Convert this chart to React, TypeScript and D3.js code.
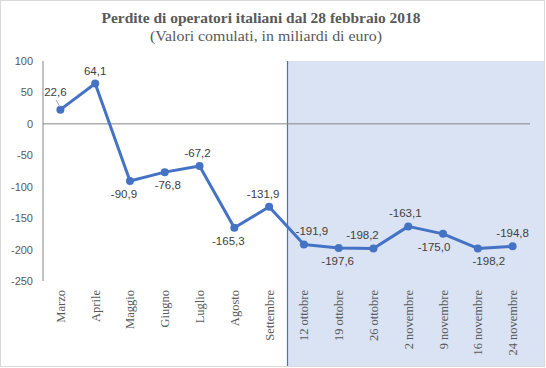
import React from "react";
import * as d3 from "d3";

const categories = [
  "Marzo", "Aprile", "Maggio", "Giugno", "Luglio", "Agosto", "Settembre",
  "12 ottobre", "19 ottobre", "26 ottobre", "2 novembre", "9 novembre", "16 novembre", "24 novembre",
];
const values = [22.6, 64.1, -90.9, -76.8, -67.2, -165.3, -131.9, -191.9, -197.6, -198.2, -163.1, -175.0, -198.2, -194.8];
const yTicks = [100, 50, 0, -50, -100, -150, -200, -250];
const labelSide = ["above", "above", "below", "below", "above", "below", "above", "above", "below", "above", "above", "below", "below", "above"];
const labelShift = [-5, 0, -6, 3, -2, -6, -6, 8, -1, -11, -3, -9, 11, 0];
const shadeFrom = "12 ottobre";

const W = 546, H = 368;
const fmt = (v: number) => v.toFixed(1).replace(".", ",");

export default function App() {
  const x = d3.scaleBand<string>().domain(categories).range([43, 530]).padding(0);
  const y = d3.scaleLinear().domain([-250, 100]).range([281, 61]);
  const cx = (c: string) => (x(c) as number) + x.bandwidth() / 2;
  const line = d3.line<number>().x((_, i) => cx(categories[i])).y((v) => y(v));
  const shadeX = (x(shadeFrom) as number) + 1;
  const serif = "'Liberation Serif', 'DejaVu Serif', serif";
  const sans = "'Liberation Sans', Arial, sans-serif";

  return (
    <svg width={W} height={H} style={{ position: "absolute", left: 0, top: 0 }}>
      <rect x={0.5} y={0.5} width={W - 2} height={H - 2} fill="#fff" stroke="#d9d9d9" />
      <rect x={shadeX} y={y(100)} width={W - 2 - shadeX} height={H - 2 - y(100)} fill="#dae3f3" />
      <line x1={shadeX} x2={shadeX} y1={y(100)} y2={H - 2} stroke="#4472c4" strokeWidth={1.2} />
      <text x={261} y={23} textAnchor="middle" fontFamily={serif} fontWeight="bold" fontSize={15.5}
        textLength={319} lengthAdjust="spacingAndGlyphs" fill="#595959">
        Perdite di operatori italiani dal 28 febbraio 2018
      </text>
      <text x={266} y={41} textAnchor="middle" fontFamily={serif} fontSize={14.5}
        textLength={232} lengthAdjust="spacingAndGlyphs" fill="#595959">
        (Valori comulati, in miliardi di euro)
      </text>
      <line x1={43} x2={43} y1={y(100)} y2={y(-250)} stroke="#868686" />
      <line x1={43} x2={530} y1={y(0)} y2={y(0)} stroke="#868686" />
      {yTicks.map((t) => (
        <text key={t} x={33} y={y(t) + 4} textAnchor="end" fontFamily={sans} fontSize={11} fill="#595959">
          {t}
        </text>
      ))}
      {categories.map((c) => (
        <text
          key={c}
          transform={`translate(${cx(c) + 4.5},290) rotate(-90)`}
          textAnchor="end"
          fontFamily={serif}
          fontSize={12.5}
          fill="#595959"
        >
          {c}
        </text>
      ))}
      <path d={line(values) as string} fill="none" stroke="#4472c4" strokeWidth={3} strokeLinejoin="round" />
      {values.map((v, i) => (
        <circle key={i} cx={cx(categories[i])} cy={y(v)} r={4} fill="#4472c4" />
      ))}
      <line x1={56} x2={60} y1={100} y2={107} stroke="#a6a6a6" />
      {values.map((v, i) => (
        <text
          key={i}
          x={cx(categories[i]) + labelShift[i]}
          y={y(v) + (labelSide[i] === "above" ? (i === 0 ? -14 : -9) : 17)}
          textAnchor="middle"
          fontFamily={sans}
          fontSize={11.5}
          fill="#404040"
        >
          {fmt(v)}
        </text>
      ))}
    </svg>
  );
}
